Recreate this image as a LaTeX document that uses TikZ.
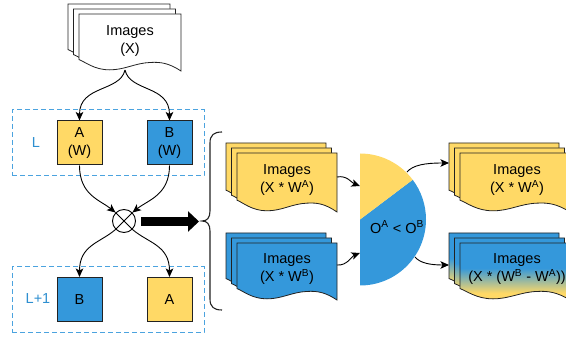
\documentclass[tikz,border=0pt]{standalone}
\usepackage{fontspec}
\setmainfont{Liberation Sans}
\usetikzlibrary{arrows.meta}
\definecolor{yelA}{HTML}{FFD966}
\definecolor{bluA}{HTML}{3498DB}
\definecolor{dashC}{HTML}{4BA3DF}
\definecolor{lblC}{HTML}{2E8FD0}
\definecolor{edgeC}{HTML}{222222}
\pgfdeclareverticalshading{bluyel}{100bp}{color(0bp)=(yelA); color(31bp)=(yelA); color(53bp)=(bluA); color(100bp)=(bluA)}
% one sheet: #1 style, #2 x, #3 y (top), #4 width, #5 height (to lower right corner)
\newcommand\docsheet[5]{%
  \path[#1] ({#2},{#3}) -- ({#2+#4},{#3}) -- ({#2+#4},{#3+#5})
    .. controls ({#2+0.88*#4},{#3+0.86*#5}) and ({#2+0.8*#4},{#3+0.84*#5}) .. ({#2+0.7*#4},{#3+0.85*#5})
    .. controls ({#2+0.55*#4},{#3+0.86*#5}) and ({#2+0.45*#4},{#3+0.98*#5}) .. ({#2+0.3*#4},{#3+0.98*#5})
    .. controls ({#2+0.15*#4},{#3+0.98*#5}) and ({#2+0.06*#4},{#3+0.84*#5}) .. ({#2},{#3+0.8*#5}) -- cycle;}
\newcommand\docstack[5]{%
  \docsheet{#1}{#2}{#3}{#4}{#5}%
  \docsheet{#1}{#2+5.5}{#3+5}{#4}{#5}%
  \docsheet{#1}{#2+11}{#3+10}{#4}{#5}}
\begin{document}
\begin{tikzpicture}[x=1pt,y=-1pt,
  txt/.style={font=\fontsize{14.5}{18}\selectfont, align=center, inner sep=0pt},
  box/.style={txt, draw=edgeC, line width=1pt, minimum width=45pt, minimum height=44pt},
  yelbox/.style={box, fill=yelA},
  blubox/.style={box, fill=bluA},
  dashbox/.style={draw=dashC, dash pattern=on 5pt off 3pt, line width=1pt, minimum width=192pt, minimum height=66pt, inner sep=0pt},
  lbl/.style={txt, text=lblC},
  whitedoc/.style={draw=edgeC, line width=0.8pt, fill=white},
  yeldoc/.style={draw=edgeC, line width=0.8pt, fill=yelA},
  bludoc/.style={draw=edgeC, line width=0.8pt, fill=bluA},
  mixdoc/.style={draw=edgeC, line width=0.8pt, shading=bluyel},
  arr/.style={draw=black, line width=0.9pt, -{Stealth[length=8.5pt,width=7.5pt,inset=2pt]}},
  brace/.style={draw=edgeC, line width=1.1pt}
]
\clip (0,0) rectangle (566,339);
\useasboundingbox (0,0) rectangle (566,339);

% dashed layer boxes
\node[dashbox] (Lbox) at (108,143) {};
\node[dashbox] (L1box) at (108,300) {};
\node[lbl] (Llbl) at (36,143) {L};
\node[lbl] (L1lbl) at (38,299) {L+1};

% input documents
\docstack{whitedoc}{68}{4}{102}{57}
\node[txt] (imgX) at (130,41) {Images\\(X)};
\coordinate (xout) at (125,70);

% layer L boxes
\node[yelbox] (A) at (79.5,143) {A\\(W)};
\node[blubox] (B) at (169.5,143) {B\\(W)};

% layer L+1 boxes
\node[blubox] (B2) at (79.5,299.5) {B};
\node[yelbox] (A2) at (169.5,299.5) {A};

% cross circle
\node[draw=black, line width=0.9pt, circle, minimum size=23pt, inner sep=0pt] (cx) at (124,221) {};
\draw[line width=0.9pt] (cx.45) -- (cx.-135) (cx.135) -- (cx.-45);

% arrows in left part
\draw[arr] (xout) .. controls (120,92) and (79.5,85) .. (A.north);
\draw[arr] (xout) .. controls (130,92) and (169.5,85) .. (B.north);
\draw[arr] (A.south) .. controls (79.5,195) and (100,200) .. (cx.135);
\draw[arr] (B.south) .. controls (169.5,195) and (148,200) .. (cx.45);
\draw[arr] (cx.-135) .. controls (100,243) and (79.5,245) .. (B2.north);
\draw[arr] (cx.-45) .. controls (148,243) and (169.5,245) .. (A2.north);

% big arrow
\coordinate (ba1) at (141,221.5);
\coordinate (ba2) at (199,221.5);
\draw[line width=9pt, -{Triangle[length=11pt,width=20pt]}] (ba1) -- (ba2);

% brace
\draw[brace] (222,132) .. controls (214,132) and (210,135) .. (210,143) -- (210,211)
  .. controls (210,218) and (207,221) .. (202,221)
  .. controls (207,221) and (210,224) .. (210,231) -- (210,299)
  .. controls (210,307) and (214,310) .. (222,310);

% middle documents
\docstack{yeldoc}{226}{143}{100}{59}
\node[txt] (imgA) at (287,180) {Images\\(X * W\textsuperscript{A})};
\docstack{bludoc}{226}{233}{100}{57}
\node[txt] (imgB) at (287,269) {Images\\(X * W\textsuperscript{B})};
\coordinate (aout) at (337,177);
\coordinate (bout) at (337,265);

% pie (half circle)
\coordinate (pc) at (360,219.5);
\fill[bluA] (pc) -- ++(-90:66pt) arc[start angle=-90, end angle=37, radius=66pt] -- cycle;
\fill[yelA] (pc) -- ++(37:66pt) arc[start angle=37, end angle=90, radius=66pt] -- cycle;
\node[txt] (cmp) at (397,227) {O\textsuperscript{A} < O\textsuperscript{B}};
\coordinate (pinA) at (360,186);
\coordinate (pinB) at (360,253);
\coordinate (poutA) at (407,172);
\coordinate (poutB) at (415,257);

\draw[arr] (aout) .. controls (347,175) and (352,183) .. (pinA);
\draw[arr] (bout) .. controls (347,266) and (352,256) .. (pinB);

% right documents
\docstack{yeldoc}{449}{143}{110}{59}
\node[txt] (imgA2) at (517,180) {Images\\(X * W\textsuperscript{A})};
\docstack{mixdoc}{449}{233}{110}{57}
\node[txt] (imgD) at (517,269) {Images\\(X * (W\textsuperscript{B} - W\textsuperscript{A}))};
\coordinate (rinA) at (449,163);
\coordinate (rinB) at (449,265);

\draw[arr] (poutA) .. controls (413,165) and (425,163) .. (rinA);
\draw[arr] (poutB) .. controls (420,263) and (430,265) .. (rinB);
\end{tikzpicture}
\end{document}
